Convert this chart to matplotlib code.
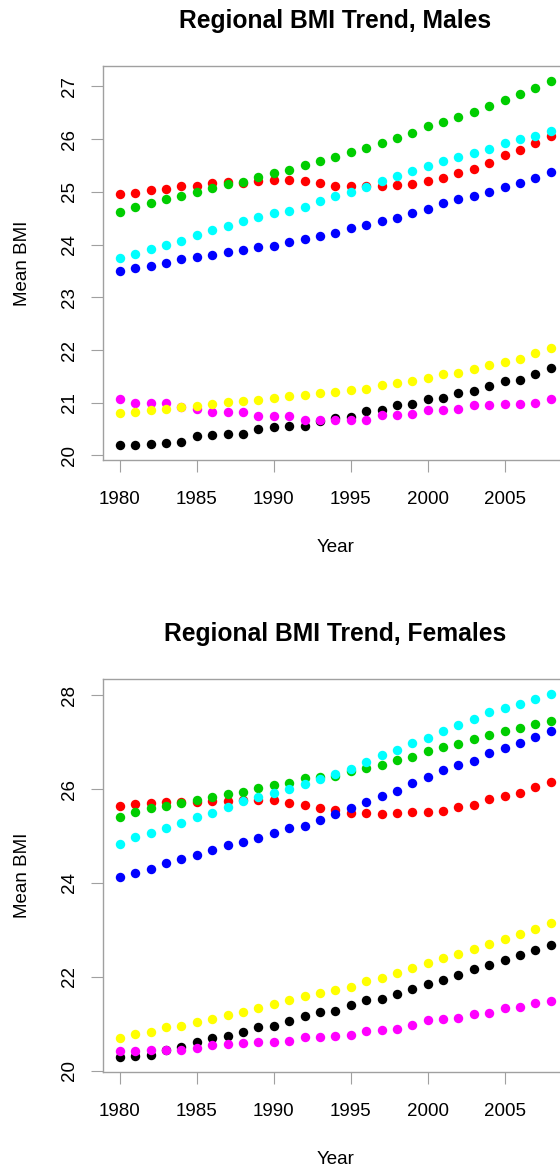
import numpy as np
import matplotlib
matplotlib.use("Agg")
import matplotlib.pyplot as plt

plt.rcParams['font.family'] = ['Liberation Sans', 'DejaVu Sans']

years = np.arange(1980, 2009)

# males, one array per region (named by plot colour)
m_black = [20.19, 20.19, 20.22, 20.24, 20.25, 20.36, 20.38, 20.40, 20.41, 20.51,
           20.54, 20.55, 20.56, 20.66, 20.71, 20.73, 20.84, 20.86, 20.95, 20.98,
           21.07, 21.09, 21.19, 21.22, 21.32, 21.42, 21.44, 21.55, 21.65]
m_red = [24.96, 24.97, 25.04, 25.06, 25.11, 25.12, 25.16, 25.18, 25.16, 25.21,
         25.23, 25.23, 25.21, 25.17, 25.12, 25.12, 25.11, 25.12, 25.13, 25.14,
         25.21, 25.27, 25.35, 25.43, 25.55, 25.70, 25.80, 25.92, 26.05]
m_green = [24.62, 24.71, 24.78, 24.86, 24.93, 25.00, 25.08, 25.15, 25.19, 25.28,
           25.35, 25.42, 25.50, 25.58, 25.67, 25.75, 25.83, 25.93, 26.03, 26.12,
           26.24, 26.33, 26.42, 26.52, 26.63, 26.74, 26.86, 26.96, 27.11]
m_blue = [23.49, 23.55, 23.59, 23.65, 23.72, 23.76, 23.81, 23.86, 23.89, 23.95,
          23.98, 24.05, 24.10, 24.17, 24.22, 24.31, 24.38, 24.45, 24.51, 24.60,
          24.67, 24.78, 24.87, 24.92, 24.99, 25.09, 25.17, 25.26, 25.37]
m_cyan = [23.75, 23.82, 23.91, 24.00, 24.07, 24.18, 24.28, 24.36, 24.44, 24.53,
          24.59, 24.64, 24.72, 24.83, 24.92, 25.00, 25.09, 25.21, 25.30, 25.39,
          25.49, 25.59, 25.66, 25.74, 25.82, 25.92, 26.01, 26.06, 26.16]
m_magenta = [21.08, 21.00, 21.00, 21.00, 20.91, 20.89, 20.83, 20.83, 20.82, 20.75,
             20.75, 20.75, 20.67, 20.67, 20.68, 20.68, 20.68, 20.77, 20.77, 20.79,
             20.86, 20.87, 20.89, 20.96, 20.96, 20.98, 20.98, 21.00, 21.08]
m_yellow = [20.81, 20.83, 20.87, 20.89, 20.91, 20.94, 20.97, 21.01, 21.04, 21.05,
            21.09, 21.12, 21.14, 21.18, 21.20, 21.25, 21.27, 21.34, 21.37, 21.42,
            21.47, 21.55, 21.57, 21.64, 21.71, 21.78, 21.83, 21.94, 22.03]

# females
f_black = [20.28, 20.31, 20.34, 20.43, 20.50, 20.60, 20.70, 20.74, 20.82, 20.93,
           20.96, 21.05, 21.16, 21.25, 21.28, 21.39, 21.50, 21.53, 21.63, 21.73,
           21.84, 21.94, 22.04, 22.16, 22.25, 22.36, 22.46, 22.57, 22.67]
f_red = [25.64, 25.68, 25.70, 25.73, 25.72, 25.72, 25.74, 25.75, 25.76, 25.76,
         25.76, 25.71, 25.67, 25.59, 25.55, 25.50, 25.49, 25.47, 25.49, 25.52,
         25.51, 25.54, 25.62, 25.67, 25.78, 25.86, 25.92, 26.05, 26.16]
f_green = [25.41, 25.52, 25.59, 25.65, 25.71, 25.77, 25.84, 25.89, 25.94, 26.02,
           26.08, 26.14, 26.23, 26.26, 26.28, 26.39, 26.46, 26.52, 26.62, 26.69,
           26.81, 26.89, 26.97, 27.06, 27.15, 27.23, 27.31, 27.38, 27.45]
f_blue = [24.12, 24.22, 24.30, 24.42, 24.52, 24.59, 24.71, 24.81, 24.88, 24.96,
          25.07, 25.17, 25.22, 25.35, 25.46, 25.60, 25.72, 25.86, 25.97, 26.13,
          26.27, 26.40, 26.51, 26.61, 26.77, 26.87, 26.99, 27.11, 27.24]
f_cyan = [24.83, 24.97, 25.06, 25.17, 25.28, 25.40, 25.50, 25.63, 25.75, 25.83,
          25.91, 26.00, 26.12, 26.22, 26.32, 26.43, 26.57, 26.72, 26.84, 26.99,
          27.09, 27.24, 27.36, 27.50, 27.64, 27.74, 27.82, 27.93, 28.04]
f_magenta = [20.41, 20.42, 20.44, 20.44, 20.44, 20.47, 20.54, 20.57, 20.59, 20.60,
             20.60, 20.62, 20.71, 20.72, 20.74, 20.75, 20.85, 20.86, 20.89, 20.97,
             21.08, 21.09, 21.11, 21.21, 21.23, 21.33, 21.36, 21.45, 21.48]
f_yellow = [20.70, 20.77, 20.82, 20.92, 20.95, 21.04, 21.10, 21.19, 21.25, 21.34,
            21.41, 21.51, 21.58, 21.66, 21.71, 21.79, 21.90, 21.98, 22.09, 22.18,
            22.29, 22.39, 22.49, 22.59, 22.70, 22.80, 22.91, 23.02, 23.14]

colors = ['black', 'red', '#00cd00', 'blue', 'cyan', 'magenta', 'yellow']
males = [m_black, m_red, m_green, m_blue, m_cyan, m_magenta, m_yellow]
females = [f_black, f_red, f_green, f_blue, f_cyan, f_magenta, f_yellow]


def pad_range(lo, hi):
    # R style 4% extension of the data range
    d = (hi - lo) * 0.04
    return lo - d, hi + d


def draw(ax, series, title, yticks):
    for vals, c in zip(series, colors):
        ax.plot(years, vals, 'o', color=c, markersize=6.8, markeredgewidth=0)
    ax.set_xlim(*pad_range(years.min(), years.max()))
    allv = np.concatenate([np.asarray(s) for s in series])
    ax.set_ylim(*pad_range(allv.min(), allv.max()))
    ax.set_xticks(np.arange(1980, 2010, 5))
    ax.set_yticks(yticks)
    for sp in ax.spines.values():
        sp.set_color('#a0a0a0')
        sp.set_linewidth(1.0)
    ax.tick_params(length=8.6, width=0.8, color='#a0a0a0', labelsize=13.5,
                   labelcolor='black')
    ax.tick_params(axis='x', pad=14)
    ax.tick_params(axis='y', pad=9)
    for lbl in ax.get_yticklabels():
        lbl.set_rotation(90)
        lbl.set_va('center')
    ax.set_title(title, fontsize=17.7, fontweight='bold', y=1.0, pad=27)
    ax.set_xlabel('Year', fontsize=13.5)
    ax.set_ylabel('Mean BMI', fontsize=13.5)
    ax.xaxis.set_label_coords(0.5, -0.2)
    ax.yaxis.set_label_coords(-0.155, 0.5)


fig = plt.figure(figsize=(5.6, 11.7), dpi=100)
ax1 = fig.add_axes([0.1834, 0.6068, 0.831, 0.3368])
ax2 = fig.add_axes([0.1834, 0.0838, 0.831, 0.3359])

draw(ax1, males, 'Regional BMI Trend, Males', np.arange(20, 28))
draw(ax2, females, 'Regional BMI Trend, Females', np.arange(20, 29, 2))

fig.savefig('out.png', dpi=100)
